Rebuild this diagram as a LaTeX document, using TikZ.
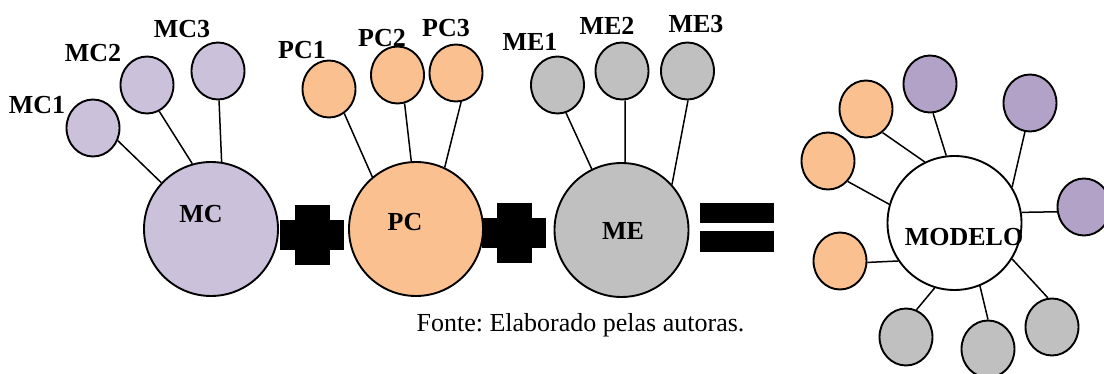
\documentclass[tikz,border=0pt]{standalone}
\usepackage{fontspec}
\setmainfont{Liberation Serif}
\usetikzlibrary{shapes.geometric}
\definecolor{lila}{HTML}{CCC1DA}
\definecolor{laranja}{HTML}{FAC090}
\definecolor{cinza}{HTML}{C0C0C0}
\definecolor{roxo}{HTML}{B2A2C7}
\frenchspacing
\begin{document}
\begin{tikzpicture}[x=1pt,y=-1pt,
    grande/.style={circle,draw,line width=1.9pt,minimum size=134pt,inner sep=0pt},
    bola/.style={ellipse,draw,line width=1.9pt,minimum width=53pt,minimum height=57pt,inner sep=0pt},
    rotulo/.style={font=\fontsize{26}{26}\selectfont\bfseries,inner sep=0pt},
    liga/.style={line width=1.5pt}]
    \useasboundingbox (0,0) rectangle (1104,374);
    % MC
    \node[grande,fill=lila] (mc) at (211,229) {};
    \node[bola,fill=lila] (mc1) at (93,128) {};
    \node[bola,fill=lila] (mc2) at (147,85) {};
    \node[bola,fill=lila] (mc3) at (218,71) {};
    \draw[liga] (mc1.-27) -- (mc.137);
    \draw[liga] (mc2.-65) -- (mc.106);
    \draw[liga] (mc3.-88) -- (mc.81);
    \node[rotulo] (tmc) at (201,214) {MC};
    \node[rotulo] (tmc1) at (37,105) {MC1};
    \node[rotulo] (tmc2) at (93,53) {MC2};
    \node[rotulo] (tmc3) at (182,29) {MC3};
    % PC
    \node[grande,fill=laranja] (pc) at (416,229) {};
    \node[bola,fill=laranja] (pc1) at (329,89) {};
    \node[bola,fill=laranja] (pc2) at (397.5,75) {};
    \node[bola,fill=laranja] (pc3) at (456,73) {};
    \draw[liga] (pc1.-58) -- (pc.130);
    \draw[liga] (pc2.-76) -- (pc.94);
    \draw[liga] (pc3.-80) -- (pc.65);
    \node[rotulo] (tpc) at (405,222) {PC};
    \node[rotulo] (tpc1) at (302,50) {PC1};
    \node[rotulo] (tpc2) at (382,38) {PC2};
    \node[rotulo] (tpc3) at (446,28) {PC3};
    % ME
    \node[grande,fill=cinza] (me) at (621.5,230) {};
    \node[bola,fill=cinza] (me1) at (557.5,85) {};
    \node[bola,fill=cinza] (me2) at (622,71) {};
    \node[bola,fill=cinza] (me3) at (687.5,71) {};
    \draw[liga] (me1.-73) -- (me.116);
    \draw[liga] (me2.-84) -- (me.87);
    \draw[liga] (me3.-89) -- (me.42);
    \node[rotulo] (tme) at (623,231) {ME};
    \node[rotulo] (tme1) at (530,42) {ME1};
    \node[rotulo] (tme2) at (607,26) {ME2};
    \node[rotulo] (tme3) at (696,24) {ME3};
    % sinais
    \fill (295,205) rectangle (330,265);
    \fill (280,220) rectangle (344,250);
    \fill (497,203) rectangle (532,263);
    \fill (482,218) rectangle (546,248);
    \fill (700,203) rectangle (774,223);
    \fill (700,231) rectangle (774,252);
    % MODELO
    \node[grande,fill=white] (mod) at (954.5,223) {};
    \node[bola,fill=laranja] (oa) at (866,109) {};
    \node[bola,fill=laranja] (ob) at (828,161) {};
    \node[bola,fill=laranja] (oc) at (840,261) {};
    \node[bola,fill=roxo] (ra) at (930,84) {};
    \node[bola,fill=roxo] (rb) at (1030,103) {};
    \node[bola,fill=roxo] (rc) at (1084,207) {};
    \node[bola,fill=cinza] (ca) at (906,337) {};
    \node[bola,fill=cinza] (cb) at (988,349) {};
    \node[bola,fill=cinza] (cc) at (1052,327) {};
    \draw[liga] (oa.-55) -- (mod.116);
    \draw[liga] (ob.-46) -- (mod.164);
    \draw[liga] (oc.-3) -- (mod.214);
    \draw[liga] (ra.-84) -- (mod.97);
    \draw[liga] (rb.-100) -- (mod.32);
    \draw[liga] (rc.190) -- (mod.9);
    \draw[liga] (ca.69) -- (mod.253);
    \draw[liga] (cb.90) -- (mod.292);
    \draw[liga] (cc.98) -- (mod.328);
    \node[rotulo] (tmod) at (964,237.5) {MODELO};
    \node[font=\fontsize{26}{26}\selectfont,inner sep=0pt,anchor=base] (fonte) at (580.5,332) {Fonte: Elaborado pelas autoras.};
\end{tikzpicture}
\end{document}
